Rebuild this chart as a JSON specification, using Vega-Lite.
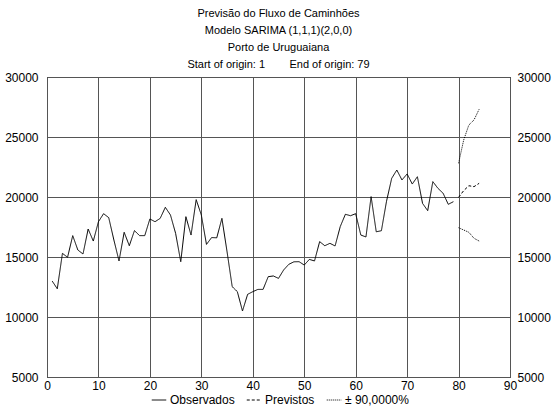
{
  "$schema": "https://vega.github.io/schema/vega-lite/v6.json",
  "width": 463,
  "height": 300,
  "autosize": "none",
  "padding": {"left": 47, "top": 77, "right": 42, "bottom": 37},
  "background": "white",
  "config": {
    "font": "Liberation Sans",
    "view": {"stroke": "black", "strokeWidth": 1},
    "axis": {"labelFontSize": 12, "labelColor": "black", "labelFont": "Liberation Sans", "domain": false, "ticks": false, "gridColor": "#555555", "gridOpacity": 1, "gridWidth": 1, "title": null}
  },
  "title": {
    "text": ["Previsão do Fluxo de Caminhões", "Modelo SARIMA (1,1,1)(2,0,0)", "Porto de Uruguaiana", "Start of origin: 1\u00a0\u00a0\u00a0\u00a0\u00a0\u00a0\u00a0\u00a0End of origin: 79"],
    "fontSize": 11,
    "fontWeight": "normal",
    "lineHeight": 17,
    "offset": 1,
    "anchor": "middle",
    "color": "black",
    "font": "Liberation Sans"
  },
  "data": {"values": [
    {"t":1,"v":13000,"s":"Observados","part":"obs"},
    {"t":2,"v":12350,"s":"Observados","part":"obs"},
    {"t":3,"v":15300,"s":"Observados","part":"obs"},
    {"t":4,"v":14980,"s":"Observados","part":"obs"},
    {"t":5,"v":16780,"s":"Observados","part":"obs"},
    {"t":6,"v":15580,"s":"Observados","part":"obs"},
    {"t":7,"v":15250,"s":"Observados","part":"obs"},
    {"t":8,"v":17330,"s":"Observados","part":"obs"},
    {"t":9,"v":16330,"s":"Observados","part":"obs"},
    {"t":10,"v":17940,"s":"Observados","part":"obs"},
    {"t":11,"v":18610,"s":"Observados","part":"obs"},
    {"t":12,"v":18280,"s":"Observados","part":"obs"},
    {"t":13,"v":16420,"s":"Observados","part":"obs"},
    {"t":14,"v":14670,"s":"Observados","part":"obs"},
    {"t":15,"v":17060,"s":"Observados","part":"obs"},
    {"t":16,"v":15940,"s":"Observados","part":"obs"},
    {"t":17,"v":17200,"s":"Observados","part":"obs"},
    {"t":18,"v":16780,"s":"Observados","part":"obs"},
    {"t":19,"v":16780,"s":"Observados","part":"obs"},
    {"t":20,"v":18170,"s":"Observados","part":"obs"},
    {"t":21,"v":17940,"s":"Observados","part":"obs"},
    {"t":22,"v":18220,"s":"Observados","part":"obs"},
    {"t":23,"v":19140,"s":"Observados","part":"obs"},
    {"t":24,"v":18500,"s":"Observados","part":"obs"},
    {"t":25,"v":16970,"s":"Observados","part":"obs"},
    {"t":26,"v":14610,"s":"Observados","part":"obs"},
    {"t":27,"v":18360,"s":"Observados","part":"obs"},
    {"t":28,"v":16830,"s":"Observados","part":"obs"},
    {"t":29,"v":19780,"s":"Observados","part":"obs"},
    {"t":30,"v":18500,"s":"Observados","part":"obs"},
    {"t":31,"v":16050,"s":"Observados","part":"obs"},
    {"t":32,"v":16620,"s":"Observados","part":"obs"},
    {"t":33,"v":16600,"s":"Observados","part":"obs"},
    {"t":34,"v":18220,"s":"Observados","part":"obs"},
    {"t":35,"v":15440,"s":"Observados","part":"obs"},
    {"t":36,"v":12530,"s":"Observados","part":"obs"},
    {"t":37,"v":12110,"s":"Observados","part":"obs"},
    {"t":38,"v":10500,"s":"Observados","part":"obs"},
    {"t":39,"v":11890,"s":"Observados","part":"obs"},
    {"t":40,"v":12110,"s":"Observados","part":"obs"},
    {"t":41,"v":12300,"s":"Observados","part":"obs"},
    {"t":42,"v":12300,"s":"Observados","part":"obs"},
    {"t":43,"v":13360,"s":"Observados","part":"obs"},
    {"t":44,"v":13420,"s":"Observados","part":"obs"},
    {"t":45,"v":13220,"s":"Observados","part":"obs"},
    {"t":46,"v":13920,"s":"Observados","part":"obs"},
    {"t":47,"v":14390,"s":"Observados","part":"obs"},
    {"t":48,"v":14600,"s":"Observados","part":"obs"},
    {"t":49,"v":14610,"s":"Observados","part":"obs"},
    {"t":50,"v":14330,"s":"Observados","part":"obs"},
    {"t":51,"v":14800,"s":"Observados","part":"obs"},
    {"t":52,"v":14670,"s":"Observados","part":"obs"},
    {"t":53,"v":16280,"s":"Observados","part":"obs"},
    {"t":54,"v":15940,"s":"Observados","part":"obs"},
    {"t":55,"v":16140,"s":"Observados","part":"obs"},
    {"t":56,"v":15920,"s":"Observados","part":"obs"},
    {"t":57,"v":17530,"s":"Observados","part":"obs"},
    {"t":58,"v":18560,"s":"Observados","part":"obs"},
    {"t":59,"v":18440,"s":"Observados","part":"obs"},
    {"t":60,"v":18610,"s":"Observados","part":"obs"},
    {"t":61,"v":16830,"s":"Observados","part":"obs"},
    {"t":62,"v":16670,"s":"Observados","part":"obs"},
    {"t":63,"v":20030,"s":"Observados","part":"obs"},
    {"t":64,"v":17100,"s":"Observados","part":"obs"},
    {"t":65,"v":17190,"s":"Observados","part":"obs"},
    {"t":66,"v":19650,"s":"Observados","part":"obs"},
    {"t":67,"v":21550,"s":"Observados","part":"obs"},
    {"t":68,"v":22250,"s":"Observados","part":"obs"},
    {"t":69,"v":21420,"s":"Observados","part":"obs"},
    {"t":70,"v":21920,"s":"Observados","part":"obs"},
    {"t":71,"v":21080,"s":"Observados","part":"obs"},
    {"t":72,"v":21690,"s":"Observados","part":"obs"},
    {"t":73,"v":19470,"s":"Observados","part":"obs"},
    {"t":74,"v":18860,"s":"Observados","part":"obs"},
    {"t":75,"v":21280,"s":"Observados","part":"obs"},
    {"t":76,"v":20720,"s":"Observados","part":"obs"},
    {"t":77,"v":20310,"s":"Observados","part":"obs"},
    {"t":78,"v":19390,"s":"Observados","part":"obs"},
    {"t":79,"v":19610,"s":"Observados","part":"obs"},
    {"t":80,"v":19970,"s":"Previstos","part":"fc"},
    {"t":81,"v":20530,"s":"Previstos","part":"fc"},
    {"t":82,"v":20940,"s":"Previstos","part":"fc"},
    {"t":83,"v":20860,"s":"Previstos","part":"fc"},
    {"t":84,"v":21140,"s":"Previstos","part":"fc"},
    {"t":80,"v":22810,"s":"± 90,0000%","part":"up"},
    {"t":81,"v":24750,"s":"± 90,0000%","part":"up"},
    {"t":82,"v":26000,"s":"± 90,0000%","part":"up"},
    {"t":83,"v":26420,"s":"± 90,0000%","part":"up"},
    {"t":84,"v":27310,"s":"± 90,0000%","part":"up"},
    {"t":80,"v":17440,"s":"± 90,0000%","part":"lo"},
    {"t":81,"v":17250,"s":"± 90,0000%","part":"lo"},
    {"t":82,"v":17060,"s":"± 90,0000%","part":"lo"},
    {"t":83,"v":16560,"s":"± 90,0000%","part":"lo"},
    {"t":84,"v":16330,"s":"± 90,0000%","part":"lo"}
  ]},
  "layer": [
    {
      "mark": {"type": "line", "color": "black", "strokeWidth": 1},
      "encoding": {
        "x": {"field": "t", "type": "quantitative", "scale": {"domain": [0, 90], "nice": false, "zero": false},
              "axis": {"values": [0,10,20,30,40,50,60,70,80,90], "labelPadding": 3, "labelFlush": false}},
        "y": {"field": "v", "type": "quantitative", "scale": {"domain": [5000, 30000], "nice": false, "zero": false},
              "axis": {"orient": "left", "values": [5000,10000,15000,20000,25000,30000], "format": "d", "labelPadding": 9, "labelFlush": false}},
        "strokeDash": {"field": "s", "type": "nominal",
              "scale": {"domain": ["Observados", "Previstos", "± 90,0000%"], "range": [[1,0],[3,2],[1,1]]},
              "legend": {"title": null, "orient": "none", "legendX": 104, "legendY": 315, "direction": "horizontal", "symbolType": "stroke", "symbolStrokeColor": "black", "symbolStrokeWidth": 1, "symbolSize": 210, "labelOffset": 3, "labelFontSize": 12, "labelColor": "black", "labelFont": "Liberation Sans", "columnPadding": 9}},
        "detail": {"field": "part", "type": "nominal"},
        "order": {"field": "t", "type": "quantitative"}
      }
    },
    {
      "mark": {"type": "line", "opacity": 0},
      "encoding": {
        "x": {"field": "t", "type": "quantitative", "scale": {"domain": [0, 90], "nice": false, "zero": false},
              "axis": {"values": [0,10,20,30,40,50,60,70,80,90], "labelPadding": 3, "labelFlush": false}},
        "y": {"field": "v", "type": "quantitative",
              "axis": {"orient": "right", "values": [5000,10000,15000,20000,25000,30000], "format": "d", "labelPadding": 7, "labelFlush": false, "grid": false}},
        "detail": {"field": "part", "type": "nominal"}
      }
    }
  ],
  "resolve": {"axis": {"y": "independent"}}
}
